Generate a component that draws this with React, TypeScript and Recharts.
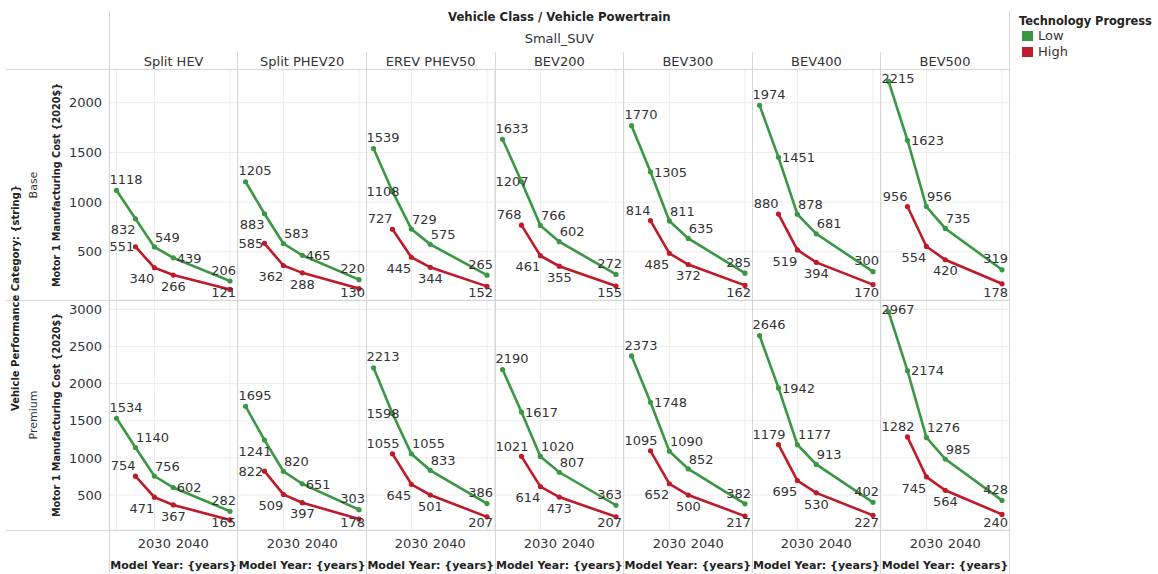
import React from 'react';
import { LineChart, Line, XAxis, YAxis, CartesianGrid } from 'recharts';

// ---- data ----
const years = [2020, 2025, 2030, 2035, 2050];
const powertrains = ['Split HEV', 'Split PHEV20', 'EREV PHEV50', 'BEV200', 'BEV300', 'BEV400', 'BEV500'];
const categories = ['Base', 'Premium'];

const baseLow = [
  [1118, 832, 549, 439, 206],
  [1205, 883, 583, 465, 220],
  [1539, 1108, 729, 575, 265],
  [1633, 1207, 766, 602, 272],
  [1770, 1305, 811, 635, 285],
  [1974, 1451, 878, 681, 300],
  [2215, 1623, 956, 735, 319],
];
const baseHigh = [
  [null, 551, 340, 266, 121],
  [null, 585, 362, 288, 130],
  [null, 727, 445, 344, 152],
  [null, 768, 461, 355, 155],
  [null, 814, 485, 372, 162],
  [null, 880, 519, 394, 170],
  [null, 956, 554, 420, 178],
];
const premiumLow = [
  [1534, 1140, 756, 602, 282],
  [1695, 1241, 820, 651, 303],
  [2213, 1598, 1055, 833, 386],
  [2190, 1617, 1020, 807, 363],
  [2373, 1748, 1090, 852, 382],
  [2646, 1942, 1177, 913, 402],
  [2967, 2174, 1276, 985, 428],
];
const premiumHigh = [
  [null, 754, 471, 367, 165],
  [null, 822, 509, 397, 178],
  [null, 1055, 645, 501, 207],
  [null, 1021, 614, 473, 207],
  [null, 1095, 652, 500, 217],
  [null, 1179, 695, 530, 227],
  [null, 1282, 745, 564, 240],
];

const yTicksBase = [500, 1000, 1500, 2000];
const yTicksPremium = [500, 1000, 1500, 2000, 2500, 3000];
const xGridTicks = [2020, 2030, 2040, 2050];
const xLabelTicks = [2030, 2040];

// ---- layout / style ----
const FONT = '"DejaVu Sans", Verdana, sans-serif';
const GREEN = '#3a9744';
const RED = '#be1a2a';
const LINE_GRAY = '#d6d6d6';
const LEFT = 109.3;
const RIGHT = 1009.3;
const COL_W = (RIGHT - LEFT) / 7;
const ROW_TOP = [69, 300];
const ROW_H = [231, 230];
const AXIS_W = 50;
const XAXIS_H = 30;

// label placement (Tableau picks these per mark to avoid collisions)
const greenSecond = [
  ['belowLeft', 'belowLeft', 'left', 'left', 'right', 'right', 'right'],
  ['aboveRight', 'belowLeft', 'left', 'right', 'right', 'right', 'right'],
];
const redSecond = [
  ['left', 'left', 'aboveLeft', 'aboveLeft', 'aboveLeft', 'aboveLeft', 'aboveLeft'],
  ['aboveLeft', 'left', 'aboveLeft', 'aboveLeft', 'aboveLeft', 'aboveLeft', 'aboveLeft'],
];

function placement(series: string, idx: number, row: number, col: number) {
  if (series === 'low') {
    if (idx === 0 || idx === 4) return 'above';
    if (idx === 1) return greenSecond[row][col];
    if (idx === 2) return 'aboveRight';
    return col <= 1 ? 'right' : 'aboveRight';
  }
  if (idx === 1) return redSecond[row][col];
  if (idx === 2) return 'belowLeft';
  return 'below';
}

const makeLabel = (series: string, row: number, col: number, plotLeft: number, plotW: number, plotH: number) =>
  (props: any) => {
    const x = props.x ?? props.viewBox?.x;
    const y = props.y ?? props.viewBox?.y;
    const { value, index } = props;
    if (value == null || x == null || y == null) return null;
    const text = String(value);
    const w = text.length * 8.27;
    let cx = x;
    let cy = y;
    switch (placement(series, index, row, col)) {
      case 'above': cy = y - 11; break;
      case 'below': cy = y + 11; break;
      case 'left': cx = x - 2.5 - w / 2; break;
      case 'right': cx = x + 3.5 + w / 2; break;
      case 'aboveLeft': cx = x - w / 2; cy = y - 10.5; break;
      case 'aboveRight': cx = x + w / 2 + 0.5; cy = y - 10; break;
      case 'belowLeft': cx = x - w / 2; cy = y + 11; break;
    }
    cx = Math.max(plotLeft + w / 2 + 0.5, Math.min(plotLeft + plotW - w / 2 - 1.5, cx));
    cy = Math.max(9, Math.min(plotH - 7.5, cy));
    return (
      <text key={`${series}-${index}`} x={cx} y={cy} dy="0.36em" textAnchor="middle"
        fontSize={13} fontFamily={FONT} fill="#333">
        {text}
      </text>
    );
  };

function Panel({ row, col }: { row: number; col: number }) {
  const low = (row === 0 ? baseLow : premiumLow)[col];
  const high = (row === 0 ? baseHigh : premiumHigh)[col];
  const data = years.map((year, i) => ({ year, low: low[i], high: high[i] }));
  const axisW = col === 0 ? AXIS_W : 0;
  const plotH = ROW_H[row];
  const width = COL_W + axisW;
  const height = plotH + (row === 1 ? XAXIS_H : 0);
  const domain = row === 0 ? [15, 2340] : [30, 3125];
  const yTicks = row === 0 ? yTicksBase : yTicksPremium;

  return (
    <div style={{ position: 'absolute', left: LEFT + col * COL_W - axisW, top: ROW_TOP[row] }}>
      <LineChart width={width} height={height} data={data} margin={{ top: 0, right: 0, bottom: 0, left: 0 }}>
        <CartesianGrid stroke="#ececec" xAxisId="grid" />
        <XAxis xAxisId="grid" dataKey="year" type="number" domain={[2018, 2052]} ticks={xGridTicks} hide />
        <XAxis
          dataKey="year"
          type="number"
          domain={[2018, 2052]}
          ticks={xLabelTicks}
          hide={row === 0}
          height={XAXIS_H}
          axisLine={false}
          tickLine={false}
          tickSize={0}
          tickMargin={9}
          interval={0}
          tick={{ fill: '#333', fontSize: 13, fontFamily: FONT }}
        />
        <YAxis
          type="number"
          domain={domain}
          ticks={yTicks}
          allowDataOverflow
          hide={col !== 0}
          width={AXIS_W}
          axisLine={false}
          tickLine={false}
          tickSize={0}
          tickMargin={7}
          interval={0}
          tick={{ fill: '#333', fontSize: 13, fontFamily: FONT }}
        />
        <Line
          dataKey="low"
          stroke={GREEN}
          strokeWidth={2.6}
          dot={{ r: 2.6, fill: GREEN, stroke: GREEN, strokeWidth: 0 }}
          activeDot={false}
          isAnimationActive={false}
          label={makeLabel('low', row, col, axisW, COL_W, plotH)}
        />
        <Line
          dataKey="high"
          stroke={RED}
          strokeWidth={2.6}
          dot={{ r: 2.6, fill: RED, stroke: RED, strokeWidth: 0 }}
          activeDot={false}
          isAnimationActive={false}
          label={makeLabel('high', row, col, axisW, COL_W, plotH)}
        />
      </LineChart>
    </div>
  );
}

const Rule = ({ x, y, w, h }: { x: number; y: number; w: number; h: number }) => (
  <div style={{ position: 'absolute', left: x, top: y, width: w, height: h, background: LINE_GRAY }} />
);

const Label = ({ x, y, children, style, rotate }: any) => (
  <div
    style={{
      position: 'absolute',
      left: x,
      top: y,
      transform: `translate(-50%, -50%)${rotate ? ' rotate(-90deg)' : ''}`,
      whiteSpace: 'nowrap',
      fontFamily: FONT,
      color: '#333',
      lineHeight: 1,
      ...style,
    }}
  >
    {children}
  </div>
);

const bold = { fontWeight: 'bold', fontSize: 11, color: '#222' };

export default function App() {
  return (
    <div style={{ position: 'absolute', left: 0, top: 0, width: 1158, height: 574, background: '#fff', overflow: 'hidden' }}>
      {categories.map((_, r) => powertrains.map((__, c) => <Panel key={`${r}-${c}`} row={r} col={c} />))}

      {/* frame */}
      <Rule x={6} y={69} w={RIGHT - 6} h={1} />
      <Rule x={6} y={300} w={RIGHT - 6} h={1} />
      <Rule x={6} y={530} w={RIGHT - 6} h={1} />
      <Rule x={LEFT - 0.5} y={11} w={1} h={563} />
      <Rule x={RIGHT - 0.5} y={11} w={1} h={563} />
      {powertrains.slice(1).map((_, i) => (
        <Rule key={i} x={LEFT + (i + 1) * COL_W - 0.5} y={52} w={1} h={522} />
      ))}

      {/* headers */}
      <Label x={(LEFT + RIGHT) / 2} y={18} style={{ ...bold, fontSize: 11.7 }}>Vehicle Class / Vehicle Powertrain</Label>
      <Label x={(LEFT + RIGHT) / 2} y={38} style={{ fontSize: 13 }}>Small_SUV</Label>
      {powertrains.map((p, i) => (
        <Label key={p} x={LEFT + (i + 0.5) * COL_W} y={61} style={{ fontSize: 13 }}>{p}</Label>
      ))}

      {/* left headers */}
      <Label x={16} y={298} rotate style={{ ...bold, fontSize: 10 }}>Vehicle Performance Category: {'{string}'}</Label>
      {categories.map((cat, r) => (
        <React.Fragment key={cat}>
          <Label x={33} y={ROW_TOP[r] + ROW_H[r] / 2} rotate style={{ fontSize: 11 }}>{cat}</Label>
          <Label x={57} y={ROW_TOP[r] + ROW_H[r] / 2} rotate style={{ ...bold, fontSize: 9.7 }}>
            Motor 1 Manufacturing Cost {'{2020$}'}
          </Label>
        </React.Fragment>
      ))}

      {/* bottom axis titles */}
      {powertrains.map((p, i) => (
        <Label key={p} x={LEFT + (i + 0.5) * COL_W} y={565} style={bold}>Model Year: {'{years}'}</Label>
      ))}

      {/* legend */}
      <div style={{ position: 'absolute', left: 1019, top: 14, fontFamily: FONT }}>
        <div style={{ ...bold, fontSize: 11.4, lineHeight: '14px' }}>Technology Progress</div>
        {[
          ['Low', GREEN],
          ['High', RED],
        ].map(([name, color], i) => (
          <div key={name} style={{ position: 'absolute', left: 3, top: 17 + i * 16, display: 'flex', alignItems: 'center' }}>
            <div style={{ width: 11, height: 10, background: color, marginRight: 5 }} />
            <span style={{ fontSize: 13, color: '#333', lineHeight: '10px' }}>{name}</span>
          </div>
        ))}
      </div>
    </div>
  );
}
